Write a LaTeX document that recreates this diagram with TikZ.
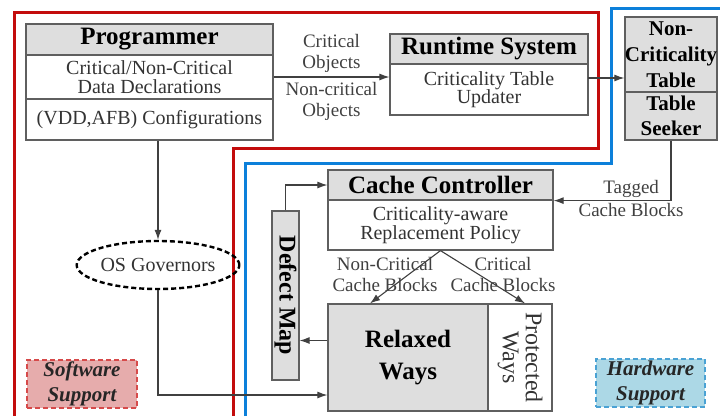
\documentclass[tikz,border=0pt]{standalone}
\usepackage{fontspec}
\setmainfont{Liberation Serif}
\usetikzlibrary{arrows.meta,shapes.geometric,calc}

\definecolor{boxgray}{RGB}{95,95,95}
\definecolor{headgray}{RGB}{222,222,222}
\definecolor{swred}{RGB}{195,12,12}
\definecolor{hwblue}{RGB}{12,128,218}
\definecolor{swfill}{RGB}{230,172,172}
\definecolor{hwfill}{RGB}{172,216,230}
\definecolor{swdash}{RGB}{214,74,74}
\definecolor{hwdash}{RGB}{74,162,212}

\tikzset{
  cell/.style={draw=boxgray, line width=1.2pt, inner sep=0pt, align=center, text=black!80, font=\fontsize{20}{18.5}\selectfont},
  head/.style={cell, fill=headgray, text=black, font=\fontsize{25}{26}\selectfont\bfseries},
  arr/.style={draw=black!75, line width=1.1pt, -{Latex[length=10pt,width=7pt]}},
  lbl/.style={align=center, inner sep=0pt, text=black!75, font=\fontsize{19}{21}\selectfont},
  frame/.style={line width=3pt},
  tagbox/.style={dash pattern=on 5pt off 3pt, line width=1.3pt, align=center, inner sep=0pt, text=black!85, font=\fontsize{21}{25}\selectfont\bfseries\itshape},
}

\begin{document}
\begin{tikzpicture}[x=1pt, y=-1pt]
    \useasboundingbox (0,0) rectangle (720,416);

    % Rahmen
    \path[draw=swred, frame](14,416)--(14,12)--(598,12)--(598,148)--(233,148)--(233,416);
    \path[draw=hwblue, frame](245,416)--(245,163)--(611,163)--(611,8)--(720,8);

    % Programmer
    \node[head, minimum width=247pt, minimum height=31pt](prog)at(149.5,39.5){Programmer};
    \node[cell, minimum width=247pt, minimum height=44pt](progdecl)at(149.5,77){Critical/Non-Critical\\Data Declarations};
    \node[cell, minimum width=247pt, minimum height=41pt](progconf)at(149.5,119.5){(VDD,AFB) Configurations};

    % Runtime System
    \node[head, minimum width=198pt, minimum height=30pt](rt)at(489,49){Runtime System};
    \node[cell, minimum width=198pt, minimum height=51pt](rtbody)at(489,89.5){Criticality Table\\Updater};
    \coordinate(rtout)at(588,78);

    % Non-Criticality Table / Table Seeker
    \node[head, minimum width=92pt, minimum height=75pt, font=\fontsize{21}{26}\selectfont\bfseries](nct)at(671,54.5){Non-\\Criticality\\Table};
    \node[head, minimum width=92pt, minimum height=48pt, font=\fontsize{21}{25}\selectfont\bfseries](seeker)at(671,116){Table\\Seeker};

    % Cache Controller
    \node[head, minimum width=225pt, minimum height=30pt](cc)at(440.5,185){Cache Controller};
    \node[cell, minimum width=225pt, minimum height=50pt](ccbody)at(440.5,225){Criticality-aware\\Replacement Policy};

    % Defect Map
    \node[head, rotate=-90, minimum width=169pt, minimum height=27pt, font=\fontsize{24}{26}\selectfont\bfseries](dmap)at(285.5,295.5){Defect Map};

    % Ways
    \node[head, minimum width=160pt, minimum height=107pt, font=\fontsize{25}{32}\selectfont\bfseries](relaxed)at(408,357.5){Relaxed\\Ways};
    \node[cell, rotate=-90, minimum width=107pt, minimum height=64pt, font=\fontsize{24}{23}\selectfont](prot)at(520,357.5){Protected\\Ways};

    % OS Governors
    \node[draw, ellipse, dash pattern=on 5pt off 3pt, line width=2.4pt, minimum width=148pt, minimum height=48pt, inner sep=0pt, text=black!80, font=\fontsize{20}{22}\selectfont](osgov)at(158,265){OS Governors};

    % Software / Hardware
    \node[tagbox, draw=swdash, fill=swfill, minimum width=110pt, minimum height=48pt](sw)at(82,384){Software\\Support};
    \node[tagbox, draw=hwdash, fill=hwfill, minimum width=109pt, minimum height=48pt](hw)at(650.5,383){Hardware\\Support};

    % Pfeile
    \path[arr](progdecl.east)to node[midway, lbl, above=4pt](critobj){Critical\\Objects} node[midway, lbl, below=5pt](noncritobj){Non-critical\\Objects} (progdecl.east -| rtbody.west);
    \path[arr](rtout)to(rtout -| nct.west);
    \path[arr](seeker.south)|- node[pos=0.67, lbl, above=2pt](tagged){Tagged} node[pos=0.67, lbl, below=2pt](tagcb){Cache Blocks} (cc.south east);
    \path[arr](dmap.west)|-(cc.west);
    \path[arr]([yshift=17pt]relaxed.west)to([yshift=17pt]relaxed.west -| dmap.north);
    \path[arr](ccbody.south)to([xshift=-38pt]relaxed.north);
    \path[arr](ccbody.south)to([xshift=5pt]prot.west);
    \node[lbl](ncblk)at(385,274){Non-Critical\\Cache Blocks};
    \node[lbl](cblk)at(503,274){Critical\\Cache Blocks};
    \path[arr](progconf.south -| osgov.north)to(osgov.north);
    \path[arr](osgov.south)|-([yshift=-37.5pt]relaxed.west);
\end{tikzpicture}
\end{document}
